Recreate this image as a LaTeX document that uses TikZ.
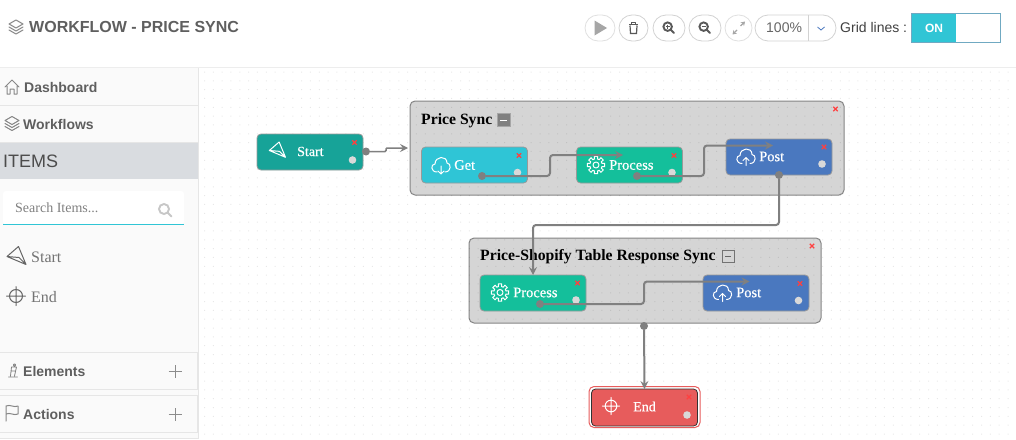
\documentclass[tikz,border=0pt]{standalone}
\usepackage{fontspec}
\setmainfont{Liberation Serif}
\setsansfont{Liberation Sans}
\usetikzlibrary{arrows.meta}
\definecolor{inktext}{HTML}{5F5F5F}
\definecolor{sidefill}{HTML}{FAFAFA}
\definecolor{sideline}{HTML}{E6E6E6}
\definecolor{itemsband}{HTML}{D9DCE0}
\definecolor{teal}{HTML}{30C5D5}
\definecolor{startfill}{HTML}{17A398}
\definecolor{getfill}{HTML}{2FC5D6}
\definecolor{procfill}{HTML}{14BF9B}
\definecolor{postfill}{HTML}{4A78BF}
\definecolor{endfill}{HTML}{E75C5C}
\definecolor{groupfill}{HTML}{D5D5D5}
\definecolor{linkgray}{HTML}{808080}
\definecolor{btnline}{HTML}{D2D2D2}
\def\fs#1{\fontsize{#1}{#1}\selectfont}
\def\redcross(#1,#2){\draw[redx] (#1-2.2,#2-2.2) -- (#1+2.2,#2+2.2) (#1-2.2,#2+2.2) -- (#1+2.2,#2-2.2);}
\def\knob(#1,#2){\fill[knobfill] (#1,#2) circle (3.8);}
\tikzset{
	sidetext/.style={anchor=west,inner sep=0,text=inktext,font=\sffamily\bfseries\fs{14}},
	itemtext/.style={anchor=west,inner sep=0,text=black!55,font=\fs{16}},
	flowbox/.style={draw=black!40,line width=.8pt,rounded corners=4pt,minimum width=106,minimum height=36,inner sep=0,outer sep=0},
	groupbox/.style={draw=black!48,line width=1pt,fill=groupfill,rounded corners=5pt,inner sep=0,outer sep=0},
	flowtext/.style={anchor=west,inner sep=0,text=white,font=\addfontfeature{FakeBold=.5}\fs{14.5}},
	grouptext/.style={anchor=west,inner sep=0,text=black,font=\bfseries\fs{15.7}},
	btn/.style={draw=btnline,line width=.8pt,fill=white,rounded corners=13pt,minimum height=26,inner sep=0},
	portdot/.style={circle,fill=linkgray,inner sep=0,minimum size=8,outer sep=0},
	link/.style={draw=linkgray,line width=2pt,rounded corners=3pt,-{Stealth[length=8pt,width=8pt,inset=3pt]}},
	griddot/.style={fill=black,fill opacity=.09},
	redx/.style={draw=red!75,line width=1.2pt},
	knobfill/.style={fill=black!15},
	icon/.style={line width=1pt,line cap=round,line join=round,fill=none},
	layers/.pic={\draw[icon] (-7,-3) -- (0,-7) -- (7,-3) -- (0,1) -- cycle (-7,0) -- (0,4) -- (7,0) (-7,3) -- (0,7) -- (7,3);},
	home/.pic={\draw[icon] (-7,0) -- (0,-7) -- (7,0) (-5,-1) -- (-5,7) -- (-2,7) -- (-2,2) -- (2,2) -- (2,7) -- (5,7) -- (5,-1);},
	plane/.pic={\draw[icon] (-9,0) -- (2.5,-10) -- (10,8) -- cycle (-9,0) -- (3,1) -- (10,8);},
	target/.pic={\draw[icon] (0,0) circle (6.5) (-9.5,0) -- (9.5,0) (0,-9.5) -- (0,9.5);},
	cloudup/.pic={\draw[icon] (-4,7) .. controls (-10.5,7) and (-10.5,-1) .. (-6,-1) .. controls (-6,-9) and (6,-10) .. (6,-2) .. controls (10.5,-2) and (10.5,7) .. (4,7) (0,9) -- (0,1) (-3,4) -- (0,1) -- (3,4);},
	clouddown/.pic={\draw[icon] (-4,7) .. controls (-10.5,7) and (-10.5,-1) .. (-6,-1) .. controls (-6,-9) and (6,-10) .. (6,-2) .. controls (10.5,-2) and (10.5,7) .. (4,7) (0,1) -- (0,9) (-3,6) -- (0,9) -- (3,6);},
	gear/.pic={\draw[icon] (0,0) circle (3); \draw[icon] (-11:8.8) \foreach \a in {0,45,...,315}{ -- (\a-11:8.8) -- (\a+11:8.8) -- (\a+14:6.2) -- (\a+31:6.2)} -- cycle;},
	lens/.pic={\draw[line width=1.9pt,line cap=round] (-1,-1) circle (5) (2.8,2.8) -- (6.5,6.5);},
	plus/.pic={\draw[line width=.6pt] (-6.5,0) -- (6.5,0) (0,-6.5) -- (0,6.5);},
	keeper/.pic={\draw[icon,line width=.8pt] (2,-6) circle (1.2) (-1,-4) -- (4,-4) (-1,-4) -- (-2,5) (4,-4) -- (2,5) (-4,6) -- (5,6) (-1,0) -- (3,0);},
	flag/.pic={\draw[icon] (-6,8) -- (-6,-7) .. controls (-2,-9) and (2,-5) .. (6,-7) -- (6,1) .. controls (2,3) and (-2,-1) .. (-6,1);}
}
\begin{document}
\begin{tikzpicture}[x=1pt,y=-1pt]
	\useasboundingbox (0,0) rectangle (1016,439);

	% header
	\fill[white] (0,0) rectangle (1016,439);
	\draw[black!7,line width=1pt] (0,67.5) -- (1016,67.5);
	\pic[inktext!75] at (16,27) {layers};
	\node[sidetext,font=\sffamily\bfseries\fs{16}] (pagetitle) at (29,26.5) {WORKFLOW - PRICE SYNC};

	% sidebar
	\fill[sidefill] (0,68) rectangle (198,439);
	\fill[sideline] (198,68) rectangle (199,439);
	\draw[sideline] (0,105.5) -- (198,105.5) (0,142.5) -- (198,142.5);
	\fill[itemsband] (0,143) rectangle (198,179);
	\pic[inktext!75] at (12,87) {home};
	\node[sidetext] (dashboard) at (24,87) {Dashboard};
	\pic[inktext!75] at (12,123.5) {layers};
	\node[sidetext] (workflows) at (23,124) {Workflows};
	\node[anchor=west,inner sep=0,text=black!70,font=\sffamily\fs{18}] (items) at (3,161) {ITEMS};
	\fill[white,rounded corners=3pt] (3,191) rectangle (184,224.5);
	\draw[teal,line width=1pt] (3,224) -- (184,224);
	\node[anchor=west,inner sep=0,text=black!50,font=\fs{14}] (search) at (15,207.5) {Search Items...};
	\pic[black!22] at (165,210) {lens};
	\pic[black!60] at (16,256.5) {plane};
	\node[itemtext] (itemstart) at (31,257) {Start};
	\pic[black!60] at (16,296) {target};
	\node[itemtext] (itemend) at (31,297) {End};
	\draw[sideline,line width=1pt] (-1,352.5) rectangle (197.5,389.5) (-1,395.5) rectangle (197.5,432.5) (0,438.5) -- (198,438.5);
	\pic[inktext!80] at (12.5,371) {keeper};
	\node[sidetext] (elements) at (23,371) {Elements};
	\pic[black!45] at (175,371.5) {plus};
	\pic[inktext!75] at (12,413) {flag};
	\node[sidetext] (actions) at (23,414) {Actions};
	\pic[black!45] at (175,414.5) {plus};

	% toolbar
	\node[btn,minimum width=30,draw=black!12] (playbtn) at (600,28) {};
	\fill[black!35] (594.5,20.5) -- (607,28) -- (594.5,35.5) -- cycle;
	\node[btn,minimum width=29] (trashbtn) at (633.5,28) {};
	\draw[black!65,line width=1pt,line join=round] (629,24.5) -- (638,24.5) (631.5,24.5) -- (631.5,22.5) -- (635.5,22.5) -- (635.5,24.5);
	\draw[black!65,line width=1.2pt] (630,25.5) -- (630.5,33.5) -- (636.5,33.5) -- (637,25.5);
	\node[btn,minimum width=32] (zoominbtn) at (669,28) {};
	\pic[black!65,scale=.85] at (668.5,27.5) {lens};
	\draw[black!65,line width=.8pt] (665.5,26.5) -- (669.5,26.5) (667.5,24.5) -- (667.5,28.5);
	\node[btn,minimum width=32] (zoomoutbtn) at (705,28) {};
	\pic[black!65,scale=.85] at (704.5,27.5) {lens};
	\draw[black!65,line width=.8pt] (701.5,26.5) -- (705.5,26.5);
	\node[btn,minimum width=27,draw=black!12] (expandbtn) at (738.5,28) {};
	\draw[black!35,line width=1.3pt,-{Stealth[length=4pt,width=5pt]}] (737,30) -- (732.5,34.5);
	\draw[black!35,line width=1.3pt,-{Stealth[length=4pt,width=5pt]}] (740.5,26) -- (745,21.5);
	\node[btn,minimum width=81] (zoomlevel) at (795.5,28) {};
	\node[anchor=west,inner sep=0,text=black!60,font=\sffamily\fs{14}] (zoompct) at (766,28) {100\%};
	\draw[btnline,line width=.8pt] (808.5,15) -- (808.5,41);
	\draw[postfill,line width=.8pt] (817.5,27) -- (821,30) -- (824.5,27);
	\node[anchor=west,inner sep=0,text=black!75,font=\sffamily\fs{14}] (gridlines) at (840,27) {Grid lines :};
	\node[draw=blue!30!cyan!40!gray!80,line width=1pt,fill=white,minimum width=89,minimum height=29,inner sep=0,outer sep=0] (gridtoggle) at (956,28) {};
	\fill[teal] (912,14) rectangle (956,42);
	\node[text=white,inner sep=0,font=\sffamily\bfseries\fs{12}] (gridon) at (934,28) {ON};

	% groups
	\node[groupbox,minimum width=434,minimum height=94] (pricesync) at (627,148) {};
	\node[groupbox,minimum width=352,minimum height=85] (tablesync) at (645,280.5) {};
	\fill[griddot] \foreach \i in {0,...,92}{\foreach \j in {0,...,41}{ (204+\i*8.83,71.5+\j*8.83) rectangle ++(1,1)}};
	\node[grouptext] (pricetitle) at (421,121) {Price Sync};
	\node[draw=black!35,fill=linkgray,minimum size=13,inner sep=0] (pricemin) at (503.5,120) {};
	\draw[white,line width=1pt] (500,120) -- (507,120);
	\redcross(835.5,109)
	\node[grouptext] (tabletitle) at (480,257) {Price-Shopify Table Response Sync};
	\node[draw=black!55,fill=groupfill,minimum size=11.5,inner sep=0] (tablemin) at (728,256) {};
	\draw[black!60,line width=1pt] (725,256) -- (731,256);
	\redcross(812,246)

	% items
	\node[flowbox,fill=startfill] (start) at (310,152) {};
	\pic[white,scale=.85] at (277,150.5) {plane};
	\node[flowtext,font=\addfontfeature{FakeBold=.5}\fs{14}] (starttext) at (297,151.5) {Start};
	\redcross(354.5,142.5)
	\knob(352.5,160)

	\node[flowbox,fill=getfill] (get) at (474.5,165) {};
	\pic[white] at (441,165) {clouddown};
	\node[flowtext] (gettext) at (454,165) {Get};
	\redcross(519,155.5)
	\knob(517.5,172.5)

	\node[flowbox,fill=procfill] (proc) at (629.5,165) {};
	\pic[white] at (596,165) {gear};
	\node[flowtext] (proctext) at (609,165) {Process};
	\redcross(674,155.5)
	\knob(672,172.5)

	\node[flowbox,fill=postfill] (post) at (779,157) {};
	\pic[white] at (746,156.5) {cloudup};
	\node[flowtext] (posttext) at (759,156.5) {Post};
	\redcross(824,147)
	\knob(822,164)

	\node[flowbox,fill=procfill] (proctwo) at (533,293) {};
	\pic[white] at (500,292.5) {gear};
	\node[flowtext] (proctwotext) at (513,292.5) {Process};
	\redcross(577.5,283)
	\knob(576,300)

	\node[flowbox,fill=postfill] (posttwo) at (756,293) {};
	\pic[white] at (722.5,292.5) {cloudup};
	\node[flowtext] (posttwotext) at (736,292.5) {Post};
	\redcross(800,283.5)
	\knob(798.5,300.5)

	\node[draw=endfill,line width=1pt,fill=white,rounded corners=5pt,minimum width=111,minimum height=41,inner sep=0,outer sep=0] (endring) at (644.5,407) {};
	\node[flowbox,fill=endfill,draw=black!80,minimum height=37] (endbox) at (644.5,407.5) {};
	\pic[white,scale=.9] at (611,406) {target};
	\node[flowtext,font=\addfontfeature{FakeBold=.5}\fs{14}] (endtext) at (633,406.5) {End};
	\redcross(689,397)
	\knob(687,415)

	% connectors
	\node[portdot] (startport) at (366,151.5) {};
	\node[portdot] (getport) at (482,176) {};
	\node[portdot] (procport) at (637,176) {};
	\node[portdot] (postport) at (779,175) {};
	\node[portdot] (proctwoport) at (540,304) {};
	\node[portdot] (tableport) at (644,326) {};
	\coordinate (procin) at (623,155);
	\coordinate (postin) at (773,145.5);
	\coordinate (posttwoin) at (749.5,281.5);

	\draw[link,line width=1.5pt,rounded corners=1pt,shorten >=2pt] (startport) -- ++(20,0) |- (pricesync.west);
	\draw[link] (getport) -- ++(68,0) |- (procin);
	\draw[link] (procport) -- ++(67,0) |- (postin);
	\draw[link] (postport) -- ++(0,50) -| (proctwo.north);
	\draw[link] (proctwoport) -- ++(104,0) |- (posttwoin);
	\draw[link] (tableport) -- (endbox.north);
\end{tikzpicture}
\end{document}
